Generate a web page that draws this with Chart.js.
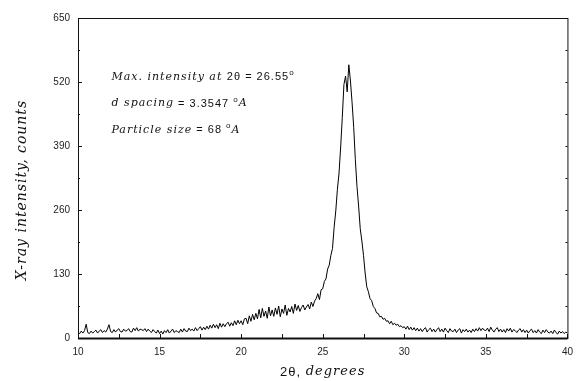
<!DOCTYPE html>
<html>
<head>
<meta charset="utf-8">
<script src="https://cdn.jsdelivr.net/npm/chart.js@4"></script>
<style>
  html, body { margin: 0; padding: 0; background: #fff; }
  #wrap { width: 581px; height: 381px; }
</style>
</head>
<body>
<div id="wrap"><canvas id="myChart" width="581" height="381"></canvas></div>
<script>
// 2-theta scan, one reading every 0.1 degree from 10.0 to 40.0
const angleStart = 10.0;
const angleStep = 0.1;
const counts = [
  12, 9, 14, 10, 15, 28, 11, 9, 14, 10,
  13, 16, 10, 14, 17, 11, 15, 12, 18, 27,
  13, 11, 17, 12, 16, 19, 13, 12, 18, 14,
  15, 19, 13, 12, 20, 15, 21, 14, 18, 17,
  15, 19, 13, 18, 14, 11, 17, 13, 10, 16,
  9, 14, 8, 15, 11, 17, 10, 14, 18, 11,
  15, 13, 11, 18, 12, 19, 14, 13, 20, 15,
  18, 14, 21, 15, 19, 23, 16, 22, 17, 24,
  18, 26, 20, 28, 21, 27, 19, 30, 22, 29,
  23, 29, 32, 24, 31, 25, 35, 27, 36, 29,
  35, 27, 39, 40, 29, 45, 34, 48, 37, 50,
  39, 58, 41, 60, 44, 55, 40, 63, 45, 57,
  44, 61, 48, 65, 43, 59, 50, 67, 46, 60,
  53, 64, 50, 69, 56, 66, 54, 62, 67, 57,
  63, 68, 59, 73, 64, 75, 80, 90, 78, 98,
  100, 115, 120, 140, 148, 168, 182, 225, 258, 302,
  335, 388, 448, 515, 532, 500, 555, 522, 478, 428,
  362, 308, 268, 222, 197, 168, 132, 104, 94, 80,
  76, 64, 60, 51, 50, 43, 44, 38, 40, 34,
  35, 29, 34, 27, 30, 26, 28, 23, 25, 21,
  23, 18, 24, 17, 22, 16, 21, 15, 20, 14,
  19, 13, 18, 21, 12, 17, 20, 13, 18, 12,
  17, 21, 13, 18, 12, 20, 15, 11, 19, 14,
  13, 18, 11, 16, 19, 10, 17, 13, 18, 12,
  16, 11, 18, 13, 19, 14, 21, 15, 20, 16,
  15, 20, 13, 22, 16, 12, 18, 21, 13, 18,
  12, 17, 11, 19, 14, 20, 12, 17, 15, 11,
  16, 19, 12, 17, 11, 16, 10, 15, 18, 11,
  15, 10, 17, 12, 9, 16, 11, 17, 12, 10,
  14, 9, 16, 11, 8, 14, 10, 13, 9, 12,
  10
];
const xMin = 10, xMax = 40, xStep = 5, xMinorStep = 2.5;
const yMin = 0, yMax = 650, yStep = 130, yMinorStep = 65;
const xTitle = [['2θ, ', 'bigSans'], ['degrees', 'bigItal']];
const yTitle = [['X-ray intensity, counts', 'yItal']];
const notes = [
  [['Max. intensity at ', 'ital'], ['2θ = 26.55', 'sans'], ['o', 'sup']],
  [['d spacing', 'ital'], [' = 3.3547 ', 'sans'], ['o', 'sup'], ['A', 'ital']],
  [['Particle size', 'ital'], [' = 68 ', 'sans'], ['o', 'sup'], ['A', 'ital']]
];

const fonts = {
  ital: 'italic 11px "DejaVu Serif"',
  sans: '11px "Liberation Sans"',
  sup: '8px "Liberation Sans"',
  bigSans: '13px "Liberation Sans"',
  bigItal: 'italic 13px "DejaVu Serif"',
  yItal: 'italic 14px "DejaVu Serif"'
};

function drawPieces(c, pieces, x, y, center) {
  c.letterSpacing = '1px';
  let total = 0;
  pieces.forEach(function(p) { c.font = fonts[p[1]]; total += c.measureText(p[0]).width; });
  let cx = center ? x - total / 2 : x;
  pieces.forEach(function(p) {
    c.font = fonts[p[1]];
    c.fillText(p[0], cx, p[1] === 'sup' ? y - 4 : y);
    cx += c.measureText(p[0]).width;
  });
}

const frame = {
  id: 'frame',
  afterDatasetsDraw(chart) {
    const c = chart.ctx;
    const a = chart.chartArea;
    const xs = chart.scales.x, ys = chart.scales.y;
    c.save();
    c.strokeStyle = '#111';
    c.lineWidth = 1;
    c.strokeRect(a.left + 0.5, a.top + 0.5, a.right - a.left, a.bottom - a.top);
    c.beginPath();
    for (let v = xMin; v <= xMax; v += xMinorStep) {
      const px = Math.round(xs.getPixelForValue(v)) + 0.5;
      c.moveTo(px, a.bottom);
      c.lineTo(px, a.bottom - 4);
    }
    for (let v = yMin; v <= yMax; v += yMinorStep) {
      const py = Math.round(ys.getPixelForValue(v)) + 0.5;
      const len = (v % yStep === 0) ? 4 : 2;
      c.moveTo(a.left, py);
      c.lineTo(a.left + len, py);
      c.moveTo(a.right, py);
      c.lineTo(a.right - 2, py);
    }
    c.stroke();
    c.beginPath();
    c.lineWidth = 2;
    c.moveTo(a.left, a.bottom + 0.5);
    c.lineTo(a.right, a.bottom + 0.5);
    c.stroke();

    c.fillStyle = '#111';
    c.textBaseline = 'middle';
    c.textAlign = 'left';
    const nx = xs.getPixelForValue(12.05);
    notes.forEach(function(line, i) {
      drawPieces(c, line, nx, a.top + 59 + i * 26.5, false);
    });
    drawPieces(c, xTitle, (a.left + a.right) / 2, a.bottom + 34, true);

    c.translate(22, (a.top + a.bottom) / 2 + 12);
    c.rotate(-Math.PI / 2);
    drawPieces(c, yTitle, 0, 0, true);
    c.restore();
  }
};

document.addEventListener('DOMContentLoaded', function() {
  const ctx = document.getElementById('myChart').getContext('2d');
  const points = counts.map(function(v, i) {
    return { x: +(angleStart + i * angleStep).toFixed(2), y: v };
  });

  const myChart = new Chart(ctx, {
    type: 'line',
    data: {
      datasets: [{
        label: 'Counts',
        data: points,
        borderColor: '#000',
        borderWidth: 1,
        pointRadius: 0,
        tension: 0,
        fill: false
      }]
    },
    options: {
      responsive: false,
      animation: false,
      layout: { padding: { left: 0, top: 18, right: 9, bottom: 0 } },
      plugins: {
        legend: { display: false },
        tooltip: { enabled: false }
      },
      scales: {
        x: {
          type: 'linear',
          min: xMin,
          max: xMax,
          grid: { display: false, drawTicks: false },
          border: { display: false },
          ticks: {
            stepSize: xStep,
            padding: 8,
            color: '#222',
            font: { family: 'Liberation Sans', size: 10 }
          },
          afterFit: function(scale) { scale.height = 43; }
        },
        y: {
          min: yMin,
          max: yMax,
          grid: { display: false, drawTicks: false },
          border: { display: false },
          ticks: {
            stepSize: yStep,
            padding: 8,
            color: '#222',
            font: { family: 'Liberation Sans', size: 10 }
          },
          afterFit: function(scale) { scale.width = 78; }
        }
      }
    },
    plugins: [frame]
  });
});
</script>
</body>
</html>
